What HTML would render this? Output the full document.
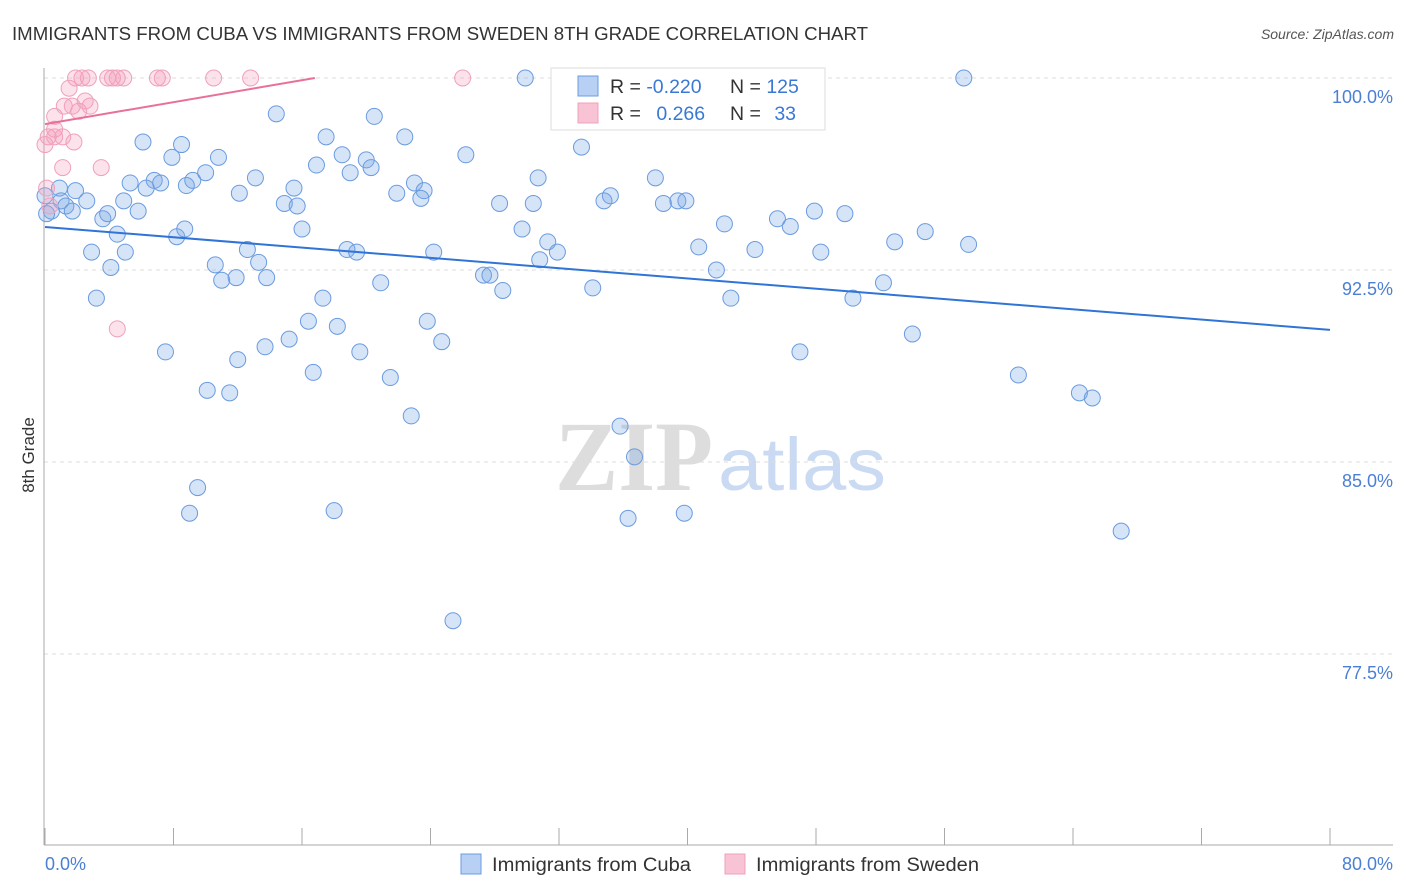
<!DOCTYPE html>
<html><head><meta charset="utf-8"><style>
body{margin:0;background:#fff;font-family:"Liberation Sans",sans-serif;}
svg{display:block}
</style></head><body>
<svg id="chart" width="1406" height="892" xmlns="http://www.w3.org/2000/svg">
<text x="12" y="40" font-size="18" fill="#333" textLength="856" lengthAdjust="spacingAndGlyphs">IMMIGRANTS FROM CUBA VS IMMIGRANTS FROM SWEDEN 8TH GRADE CORRELATION CHART</text>
<text x="1394" y="39" font-size="14" fill="#555" font-style="italic" text-anchor="end">Source: ZipAtlas.com</text>
<g>
<text x="555" y="490" font-size="100" fill="#ddd" font-family="Liberation Serif,serif" font-weight="bold" textLength="158" lengthAdjust="spacingAndGlyphs">ZIP</text>
<text x="718" y="490" font-size="74" fill="#c9daf2" textLength="168" lengthAdjust="spacingAndGlyphs">atlas</text>
</g>
<g id="grid"></g>
<g id="axes"></g>
<g id="points"></g>
<g id="trends"></g>
<text transform="translate(34,455) rotate(-90)" font-size="17" fill="#333" text-anchor="middle">8th Grade</text>
<g>
<rect x="551" y="68" width="274" height="62" fill="#fff" stroke="#ddd"/>
<rect x="578" y="76" width="20" height="20" fill="#b8d0f3" stroke="#6a9be0"/>
<rect x="578" y="103" width="20" height="20" fill="#f8c3d4" stroke="#f0a0bc"/>
<text x="610" y="93" font-size="19.5" fill="#333">R = <tspan fill="#3a78d6">-0.220</tspan></text>
<text x="730" y="93" font-size="19.5" fill="#333">N = <tspan fill="#3a78d6">125</tspan></text>
<text x="610" y="120" font-size="19.5" fill="#333">R = <tspan fill="#3a78d6" dx="10">0.266</tspan></text>
<text x="730" y="120" font-size="19.5" fill="#333">N = <tspan fill="#3a78d6" dx="8">33</tspan></text>
</g>
<g>
<rect x="461" y="854" width="20" height="20" fill="#b8d0f3" stroke="#6a9be0"/>
<text x="492" y="871" font-size="19" fill="#333" textLength="199" lengthAdjust="spacingAndGlyphs">Immigrants from Cuba</text>
<rect x="725" y="854" width="20" height="20" fill="#f8c3d4" stroke="#f0a0bc"/>
<text x="756" y="871" font-size="19" fill="#333" textLength="223" lengthAdjust="spacingAndGlyphs">Immigrants from Sweden</text>
</g>
</svg>
<script>
const cubaX=[29.9,57.2,14.4,20.5,6.1,8.5,17.5,22.4,33.4,7.9,10.8,18.5,20.0,26.2,16.9,20.3,19.0,13.1,10.0,5.3,6.8,7.2,6.3,8.8,9.2,0.9,1.9,12.1,15.5,21.9,23.0,23.6,23.4,30.7,38.0,35.2,34.8,38.5,39.4,39.9,28.3,30.4,14.9,15.7,4.9,2.6,1.0,1.3,1.7,0.4,0.1,0.0,3.6,3.9,5.8,4.5,2.9,5.0,4.1,8.2,8.7,16.0,12.6,13.3,13.8,10.6,11.0,11.9,18.8,19.4,24.2,20.9,27.3,27.7,28.5,29.7,30.8,31.3,31.9,34.1,42.3,40.7,41.8,42.7,44.2,45.6,46.4,47.9,49.8,48.3,52.9,54.8,57.5,52.2,50.3,3.2,17.3,16.4,18.2,23.8,24.7,15.2,13.7,12.0,7.5,19.6,16.7,21.5,10.1,11.5,22.8,47.0,54.0,60.6,64.4,65.2,35.8,36.7,9.5,9.0,18.0,36.3,39.8,67.0,25.4];
const cubaY=[100.0,100.0,98.6,98.5,97.5,97.4,97.7,97.7,97.3,96.9,96.9,97.0,96.8,97.0,96.6,96.5,96.3,96.1,96.3,95.9,96.0,95.9,95.7,95.8,96.0,95.7,95.6,95.5,95.7,95.5,95.9,95.6,95.3,96.1,96.1,95.4,95.2,95.1,95.2,95.2,95.1,95.1,95.1,95.0,95.2,95.2,95.2,95.0,94.8,94.8,94.7,95.4,94.5,94.7,94.8,93.9,93.2,93.2,92.6,93.8,94.1,94.1,93.3,92.8,92.2,92.7,92.1,92.2,93.3,93.2,93.2,92.0,92.3,92.3,91.7,94.1,92.9,93.6,93.2,91.8,94.3,93.4,92.5,91.4,93.3,94.5,94.2,94.8,94.7,93.2,93.6,94.0,93.5,92.0,91.4,91.4,91.4,90.5,90.3,90.5,89.7,89.8,89.5,89.0,89.3,89.3,88.5,88.3,87.8,87.7,86.8,89.3,90.0,88.4,87.7,87.5,86.4,85.2,84.0,83.0,83.1,82.8,83.0,82.3,78.8];
const swedenX=[1.9,2.3,2.7,3.9,4.2,4.5,4.9,7.0,7.3,10.5,12.8,26.0,1.5,2.5,1.2,1.7,2.8,2.1,0.6,0.2,0.6,1.1,1.8,0.0,0.6,1.1,3.5,0.1,4.5,0.3];
const swedenY=[100,100,100,100,100,100,100,100,100,100,100,100,99.6,99.1,98.9,98.9,98.9,98.7,98.5,97.7,97.7,97.7,97.5,97.4,98.0,96.5,96.5,95.7,90.2,95.0];
const cubaTrend=[[0,94.18],[80,90.16]];
const swedenTrend=[[0,98.2],[16.8,100]];
const yTicks=[100,92.5,85,77.5];
const yTickLabels=["100.0%","92.5%","85.0%","77.5%"];
const xTicks=[0,8,16,24,32,40,48,56,64,72,80];

const NS="http://www.w3.org/2000/svg";
const X0=45,X1=1330,Y0=78,PPY=25.6;
function sx(v){return X0+(v/80)*(X1-X0);}
function sy(v){return Y0+(100-v)*PPY;}
function mk(tag,attrs,parent){const e=document.createElementNS(NS,tag);for(const k in attrs)e.setAttribute(k,attrs[k]);parent.appendChild(e);return e;}
const grid=document.getElementById('grid'),axes=document.getElementById('axes'),pts=document.getElementById('points'),tr=document.getElementById('trends');
yTicks.forEach((t,i)=>{
  const l=mk('line',{x1:44,x2:1393,y1:sy(t),y2:sy(t),stroke:'#ddd','stroke-dasharray':'4,4'},grid);
  
  
  const tx=mk('text',{x:1393,y:sy(t)+25,'font-size':18,fill:'#4a7fd4','text-anchor':'end'},grid);
  tx.textContent=yTickLabels[i];
  
  
});
let a=mk('line',{x1:44,x2:44,y1:68,y2:845,stroke:'#aaa'},axes);


a=mk('line',{x1:44,x2:1393,y1:845,y2:845,stroke:'#aaa'},axes);


xTicks.forEach(t=>{
  const l=mk('line',{x1:sx(t),x2:sx(t),y1:828,y2:845,stroke:'#aaa'},axes);
  
  
});
let xl=mk('text',{x:45,y:870,'font-size':18,fill:'#4a7fd4'},axes);xl.textContent='0.0%';


xl=mk('text',{x:1393,y:870,'font-size':18,fill:'#4a7fd4','text-anchor':'end'},axes);xl.textContent='80.0%';


cubaX.forEach((v,i)=>{
  const c=mk('circle',{cx:sx(v),cy:sy(cubaY[i]),r:8,fill:'rgba(120,165,230,0.3)',stroke:'#6a9be0','stroke-width':1},pts);
  
  
});
swedenX.forEach((v,i)=>{
  const c=mk('circle',{cx:sx(v),cy:sy(swedenY[i]),r:8,fill:'rgba(245,160,190,0.3)',stroke:'#f0a0bc','stroke-width':1},pts);
  
  
});
let t1=mk('line',{x1:sx(cubaTrend[0][0]),y1:sy(cubaTrend[0][1]),x2:sx(cubaTrend[1][0]),y2:sy(cubaTrend[1][1]),stroke:'#2f74d6','stroke-width':2},tr);


let t2=mk('line',{x1:sx(swedenTrend[0][0]),y1:sy(swedenTrend[0][1]),x2:sx(swedenTrend[1][0]),y2:sy(swedenTrend[1][1]),stroke:'#e8709a','stroke-width':2},tr);


</script>
</body></html>
